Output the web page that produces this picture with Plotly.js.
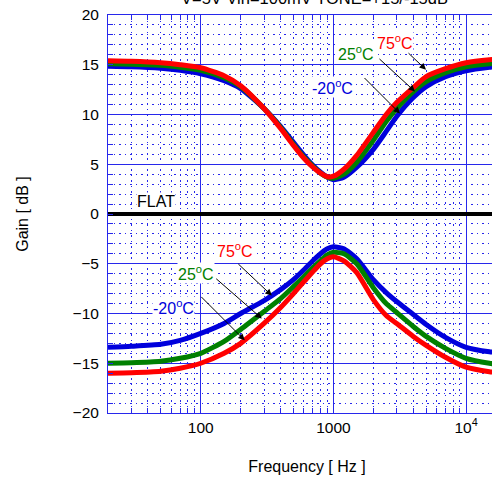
<!DOCTYPE html>
<html>
<head>
<meta charset="utf-8">
<script src="https://cdn.plot.ly/plotly-3.0.1.min.js"></script>
<style>
html,body{margin:0;padding:0;overflow:hidden;background:#fff;}
#chart{width:520px;height:477px;}
</style>
</head>
<body>
<div id="chart"></div>
<script>
// Frequency points (Hz)
const freq = [20, 30, 50, 70, 100, 150, 200, 300, 400, 500, 600, 700, 800, 900, 1000, 1200, 1500, 2000, 2500, 3000, 4000, 5000, 7000, 10000, 15000, 20000];

// Boost (TONE=+15dB) curves
const boost75 = [15.4, 15.35, 15.2, 15.0, 14.7, 13.9, 12.9, 10.6, 8.6, 6.9, 5.6, 4.7, 4.1, 3.75, 3.8, 4.5, 5.9, 8.2, 10.0, 11.2, 12.7, 13.8, 14.6, 15.2, 15.5, 15.6];
const boost25 = [15.1, 15.05, 14.95, 14.75, 14.45, 13.7, 12.8, 10.6, 8.7, 7.0, 5.7, 4.8, 4.1, 3.7, 3.6, 4.0, 5.2, 7.4, 9.3, 10.6, 12.3, 13.3, 14.2, 14.8, 15.1, 15.2];
const boostM20 = [14.85, 14.8, 14.65, 14.45, 14.1, 13.4, 12.6, 10.6, 8.8, 7.2, 5.9, 4.9, 4.2, 3.7, 3.45, 3.7, 4.7, 6.5, 8.3, 9.8, 11.7, 12.8, 13.8, 14.4, 14.75, 14.9];

// Cut (TONE=-15dB) curves
const cut75 = [-16.0, -15.95, -15.8, -15.5, -15.0, -14.0, -13.0, -11.0, -9.4, -8.0, -6.8, -5.8, -5.0, -4.5, -4.3, -4.7, -5.9, -8.6, -10.2, -11.0, -12.3, -13.2, -14.4, -15.4, -15.85, -16.0];
const cut25 = [-15.0, -14.95, -14.8, -14.5, -14.0, -12.8, -11.6, -9.8, -8.5, -7.3, -6.3, -5.4, -4.7, -4.1, -3.85, -4.0, -5.0, -7.4, -9.0, -9.9, -11.3, -12.3, -13.5, -14.5, -15.0, -15.2];
const cutM20 = [-13.4, -13.3, -13.1, -12.7, -12.0, -11.0, -10.0, -8.7, -7.6, -6.6, -5.6, -4.7, -4.0, -3.5, -3.3, -3.5, -4.5, -6.6, -7.9, -8.8, -10.1, -11.1, -12.4, -13.4, -13.85, -14.0];

// Flat response
const flat = [0, 0, 0, 0, 0, 0, 0, 0, 0, 0, 0, 0, 0, 0, 0, 0, 0, 0, 0, 0, 0, 0, 0, 0, 0, 0];

const xTickVals = [100, 1000, 10000];
const xTickText = ['100', '1000', '10<sup>4</sup>'];
const yTickVals = [-20, -15, -10, -5, 0, 5, 10, 15, 20];

const RED = 'rgb(255,0,0)', GREEN = 'rgb(0,128,0)', BLUE = 'rgb(0,0,220)';
const GRID = 'rgb(40,40,235)';

const minorX = [];
[10, 100, 1000].forEach(d => { for (let k = 2; k <= 9; k++) minorX.push(k * d); });

function tr(y, color, w) {
  return {x: freq, y: y, type: 'scatter', mode: 'lines', line: {color: color, width: w, shape: 'spline', smoothing: 0.6}, hoverinfo: 'skip'};
}

const data = [
  tr(flat, 'black', 4),
  tr(boostM20, BLUE, 5), tr(boost25, GREEN, 5), tr(boost75, RED, 5),
  tr(cutM20, BLUE, 5), tr(cut25, GREEN, 5), tr(cut75, RED, 5)
];

const F = 'Liberation Sans, Arial, sans-serif';
function lbl(text, x, y, color) {
  return {text: text, x: x, y: y, xref: 'x', yref: 'y', showarrow: false, font: {family: F, size: 16, color: color}, bgcolor: 'white', borderpad: 0};
}
function arr(x, y, ax, ay) {
  return {text: '', x: x, y: y, xref: 'x', yref: 'y', showarrow: true, ax: ax, ay: ay, arrowhead: 2, arrowsize: 1.3, arrowwidth: 1, arrowcolor: 'black'};
}

const annotations = [
  {text: 'V=5V Vin=100mV TONE=+15/-15dB', xref: 'paper', yref: 'paper', x: 0.52, y: 1, yanchor: 'bottom', yshift: 6, showarrow: false, font: {family: F, size: 16.5, color: 'black'}},
  lbl('75<sup>o</sup>C', 3.464, 17.3, RED),
  lbl('25<sup>o</sup>C', 3.170, 16.2, GREEN),
  lbl('-20<sup>o</sup>C', 2.996, 12.8, BLUE),
  lbl('75<sup>o</sup>C', 2.257, -3.6, RED),
  lbl('25<sup>o</sup>C', 1.962, -5.9, GREEN),
  lbl('-20<sup>o</sup>C', 1.796, -9.3, BLUE),
  lbl('FLAT', 1.663, 1.3, 'black'),
  arr(3.698, 14.5, -19, -18),
  arr(3.615, 12.3, -37, -34),
  arr(3.502, 10.1, -37, -37),
  arr(2.536, -8.2, -35, -33),
  arr(2.460, -10.5, -47, -41),
  arr(2.332, -12.7, -45, -45)
];

const layout = {
  width: 520, height: 477,
  margin: {l: 108, r: 14, t: 15, b: 64},
  paper_bgcolor: 'white', plot_bgcolor: 'white',
  showlegend: false,
  font: {family: F, color: 'black'},
  xaxis: {
    type: 'log', range: [Math.log10(20), Math.log10(20000)],
    tickvals: xTickVals, ticktext: xTickText,
    tickfont: {size: 15.5, family: F},
    showgrid: true, gridcolor: GRID, gridwidth: 1,
    zeroline: false, showline: true, linecolor: GRID, linewidth: 1, mirror: 'ticks',
    ticks: 'inside', ticklen: 5, tickcolor: GRID,
    minor: {tickvals: minorX, showgrid: true, gridcolor: GRID, griddash: '1.5px,4px', gridwidth: 1, ticks: 'inside', ticklen: 5, tickcolor: GRID},
    title: {text: 'Frequency [ Hz ]', font: {size: 16, family: F}, standoff: 26}
  },
  yaxis: {
    range: [-20, 20], tickvals: yTickVals,
    tickfont: {size: 15.5, family: F},
    ticklabelstandoff: 5,
    showgrid: true, gridcolor: GRID, gridwidth: 1,
    zeroline: false, showline: true, linecolor: GRID, linewidth: 1, mirror: 'ticks',
    ticks: 'inside', ticklen: 5, tickcolor: GRID,
    minor: {dtick: 1, showgrid: true, gridcolor: GRID, griddash: '1.5px,4px', gridwidth: 1, ticks: 'inside', ticklen: 5, tickcolor: GRID},
    title: {text: 'Gain [ dB ]', font: {size: 16, family: F}, standoff: 40}
  },
  annotations: annotations
};

Plotly.newPlot('chart', data, layout, {staticPlot: true, displayModeBar: false});
</script>
</body>
</html>
